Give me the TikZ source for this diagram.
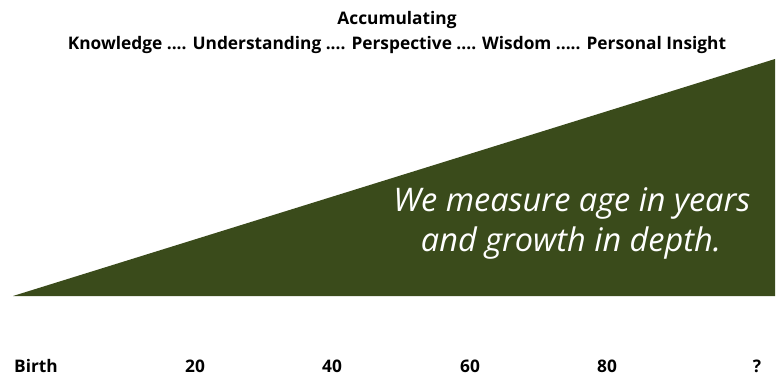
\documentclass[tikz,border=0pt]{standalone}
\usepackage{fontspec}
\setmainfont{Open Sans}
\definecolor{olive}{HTML}{3A4B1B}
\begin{document}
\begin{tikzpicture}[x=1pt,y=-1pt,
  heading/.style={font=\bfseries\fontsize{17.3}{20}\selectfont, text=black, inner sep=0pt},
  agelabel/.style={font=\bfseries\fontsize{17.3}{20}\selectfont, text=black, inner sep=0pt},
  motto/.style={font=\itshape\fontsize{32.5}{40}\selectfont, text=white, inner sep=0pt, align=center}]
  \useasboundingbox (0,0) rectangle (779,383);
  % growth wedge
  \coordinate (tip) at (13,296);
  \coordinate (top) at (775,59);
  \coordinate (base) at (775,296);
  \fill[olive] (tip) -- (top) -- (base) -- cycle;
  % headings
  \node[heading] (acc) at (397,20) {Accumulating};
  \node[heading] (stages) at (397,45) {Knowledge .... Understanding .... Perspective .... Wisdom ..... Personal Insight};
  % motto inside the wedge
  \node[motto] (l1) at (572,203) {We measure age in years};
  \node[motto] (l2) at (571,243) {and growth in depth.};
  % age axis labels
  \node[agelabel] (birth) at (36,366) {Birth};
  \node[agelabel] (a20) at (195,366) {20};
  \node[agelabel] (a40) at (332,366) {40};
  \node[agelabel] (a60) at (470,366) {60};
  \node[agelabel] (a80) at (607,366) {80};
  \node[agelabel] (aq) at (757,366) {?};
\end{tikzpicture}
\end{document}
